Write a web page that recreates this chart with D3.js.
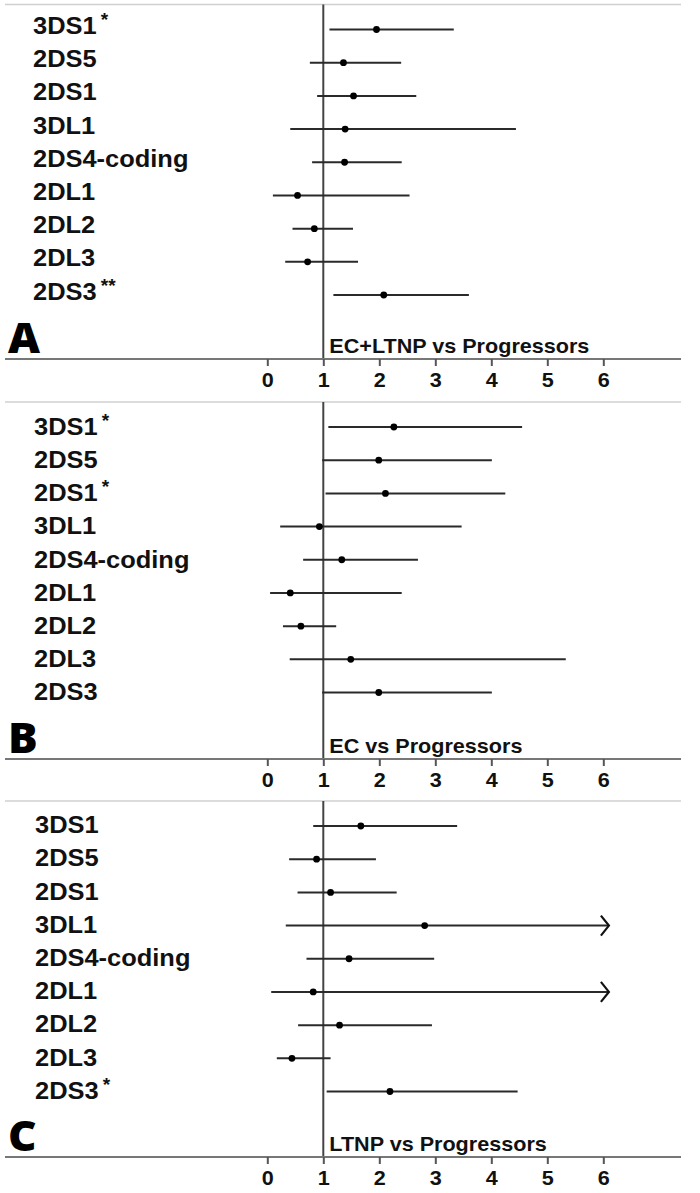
<!DOCTYPE html>
<html>
<head>
<meta charset="utf-8">
<script src="https://cdn.jsdelivr.net/npm/d3@7"></script>
<style>
  body { margin: 0; background: #fff; }
  svg { display: block; }
</style>
</head>
<body>
<svg id="chart"></svg>
<script>
// genes, top to bottom (same order in every panel)
let genes = ["3DS1", "2DS5", "2DS1", "3DL1", "2DS4-coding", "2DL1", "2DL2", "2DL3", "2DS3"]
let panelLetters = ["A", "B", "C"]
let panelTitles = ["EC+LTNP vs Progressors", "EC vs Progressors", "LTNP vs Progressors"]
let xTicks = [0, 1, 2, 3, 4, 5, 6]

// odds ratio + 95% CI
let orA = [1.95, 1.36, 1.54, 1.39, 1.38, 0.54, 0.84, 0.72, 2.08]
let loA = [1.11, 0.76, 0.89, 0.41, 0.80, 0.10, 0.45, 0.32, 1.18]
let hiA = [3.33, 2.39, 2.66, 4.44, 2.40, 2.54, 1.53, 1.62, 3.60]
let starsA = ["*", "", "", "", "", "", "", "", "**"]

let orB = [2.26, 1.99, 2.11, 0.93, 1.33, 0.41, 0.60, 1.49, 1.99]
let loB = [1.09, 0.98, 1.04, 0.23, 0.64, 0.05, 0.28, 0.40, 0.98]
let hiB = [4.55, 4.01, 4.25, 3.47, 2.69, 2.40, 1.23, 5.33, 4.01]
let starsB = ["*", "", "*", "", "", "", "", "", ""]

let orC = [1.67, 0.88, 1.13, 2.81, 1.46, 0.82, 1.29, 0.44, 2.19]
let loC = [0.82, 0.39, 0.54, 0.33, 0.70, 0.07, 0.55, 0.17, 1.06]
let hiC = [3.39, 1.94, 2.31, 6.1, 2.98, 6.1, 2.94, 1.13, 4.47]
let starsC = ["", "", "", "", "", "", "", "", "*"]
// upper limit runs off the axis -> drawn with an arrow head
let cutC = [false, false, false, true, false, true, false, false, false]

let width = 700
let height = 1193
let stretch = 1.06  // the figure is a bit wider than tall, so text is stretched too

let panels = [
    {or: orA, lo: loA, hi: hiA, stars: starsA, cut: null, top: 4.5, axisY: 359, labelX: 33, labelDy: 4.5},
    {or: orB, lo: loB, hi: hiB, stars: starsB, cut: null, top: 402, axisY: 759, labelX: 34, labelDy: 7.8},
    {or: orC, lo: loC, hi: hiC, stars: starsC, cut: cutC, top: 801, axisY: 1157, labelX: 35, labelDy: 7.2}
]

let svg = d3.select("#chart")
    .attr("width", width)
    .attr("height", height)

let X = d3.scaleLinear()
    .domain([0, 6])
    .range([267.3, 603.3])

panels.forEach((p, pi) => {
    let g = svg.append("g")

    let Y = d3.scalePoint()
        .domain(genes)
        .range([p.top + 25, p.top + 290.5])

    // thin grey line on top
    g.append("line")
        .attr("x1", 5).attr("x2", 681)
        .attr("y1", p.top).attr("y2", p.top)
        .attr("stroke", "#d0d0d0")
        .attr("stroke-width", 1.5)

    // reference line at OR = 1
    g.append("line")
        .attr("x1", X(1)).attr("x2", X(1))
        .attr("y1", p.top).attr("y2", p.axisY)
        .attr("stroke", "#444")
        .attr("stroke-width", 2)

    // x axis
    g.append("line")
        .attr("x1", 5).attr("x2", 681)
        .attr("y1", p.axisY).attr("y2", p.axisY)
        .attr("stroke", "#777")
        .attr("stroke-width", 2)

    let xaxis = d3.axisBottom(X)
        .tickValues(xTicks)
        .tickSize(7)
        .tickSizeOuter(0)
        .tickFormat(d3.format("d"))

    let ax = g.append("g")
        .attr("transform", "translate(0," + p.axisY + ")")
        .call(xaxis)
    ax.select(".domain").remove()
    ax.selectAll(".tick line")
        .attr("stroke", "#555")
        .attr("stroke-width", 2)
    ax.selectAll(".tick text")
        .attr("y", 0)
        .attr("dy", 0)
        .attr("transform", "translate(0,27.5) scale(1.08,1)")
        .attr("fill", "#111")
        .style("font-family", "'Liberation Sans', Arial, sans-serif")
        .style("font-weight", "bold")
        .style("font-size", "20px")

    // comparison title next to the reference line
    g.append("text")
        .attr("transform", "translate(" + (X(1) + 6) + "," + (p.axisY - 6) + ") scale(1.08,1)")
        .attr("fill", "#111")
        .style("font-family", "'Liberation Sans', Arial, sans-serif")
        .style("font-weight", "bold")
        .style("font-size", "20px")
        .text(panelTitles[pi])

    // panel letter
    g.append("text")
        .attr("transform", "translate(8," + (p.axisY - 6.5) + ") scale(1.05,1)")
        .attr("fill", "#000")
        .style("font-family", "'Open Sans', 'DejaVu Sans', sans-serif")
        .style("font-weight", 800)
        .style("font-size", "42px")
        .text(panelLetters[pi])

    // gene labels with significance stars
    let labels = g.selectAll("text.gene")
        .data(genes)
        .enter()
        .append("text")
        .attr("class", "gene")
        .attr("transform", (d) => "translate(" + p.labelX + "," + (Y(d) + p.labelDy) + ") scale(" + stretch + ",1)")
        .attr("fill", "#111")
        .style("font-family", "'Liberation Sans', Arial, sans-serif")
        .style("font-weight", "bold")
        .style("font-size", "24px")
    labels.append("tspan")
        .text((d) => d)
    labels.append("tspan")
        .attr("dx", 4)
        .attr("dy", -8)
        .style("font-size", "18px")
        .text((d, i) => p.stars[i])

    // confidence intervals
    let rows = genes.map((d, i) => ({gene: d, or: p.or[i], lo: p.lo[i], hi: p.hi[i], cut: p.cut ? p.cut[i] : false}))

    g.selectAll("line.ci")
        .data(rows)
        .enter()
        .append("line")
        .attr("class", "ci")
        .attr("x1", (d) => X(d.lo))
        .attr("x2", (d) => X(d.hi))
        .attr("y1", (d) => Y(d.gene))
        .attr("y2", (d) => Y(d.gene))
        .attr("stroke", "#2a2a2a")
        .attr("stroke-width", 2)

    g.selectAll("path.arrow")
        .data(rows.filter((d) => d.cut))
        .enter()
        .append("path")
        .attr("class", "arrow")
        .attr("d", (d) => {
            let x = X(d.hi), y = Y(d.gene)
            return "M" + (x - 8) + "," + (y - 10) + "L" + x + "," + y + "L" + (x - 8) + "," + (y + 10)
        })
        .attr("fill", "none")
        .attr("stroke", "#111")
        .attr("stroke-width", 2.2)

    g.selectAll("circle.or")
        .data(rows)
        .enter()
        .append("circle")
        .attr("class", "or")
        .attr("cx", (d) => X(d.or))
        .attr("cy", (d) => Y(d.gene))
        .attr("r", 3.4)
        .attr("fill", "#000")
})
</script>
</body>
</html>
